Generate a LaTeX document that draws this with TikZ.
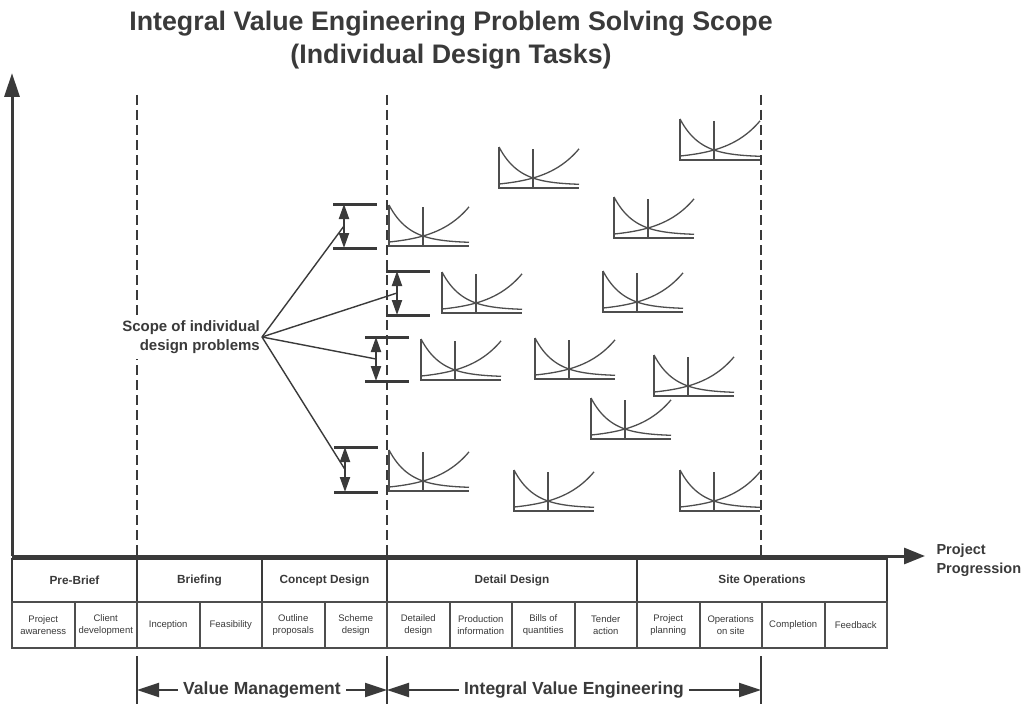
\documentclass[tikz,border=0pt]{standalone}
\usepackage{fontspec}
\setmainfont{Liberation Sans}
\usetikzlibrary{arrows.meta}
\definecolor{ink}{HTML}{3A3A3A}
\definecolor{glyphc}{HTML}{4E4E4E}
\newcommand{\scopebar}[4]{%
  \draw[bar] (#2,#3) -- ++(44,0);
  \draw[bar] (#2,#4) -- ++(44,0);
  \draw[dblarrow] (#2+11,#3) -- (#2+11,#4);
  \coordinate (#1) at (#2+11,{(#3+#4)/2});
}
\begin{document}
\begin{tikzpicture}[x=1pt,y=-1pt,
  every node/.style={text=ink},
  titlefont/.style={font=\bfseries\fontsize{26.8}{30}\selectfont},
  axisline/.style={draw=ink,line width=3pt},
  dashline/.style={draw=ink,line width=2.2pt,dash pattern=on 10pt off 5pt},
  glyph/.style={draw=glyphc,line width=1.3pt},
  bar/.style={draw=ink,line width=3pt},
  dblarrow/.style={draw=ink,line width=2pt,{Triangle[length=15pt,width=10pt]}-{Triangle[length=15pt,width=10pt]}},
  fanline/.style={draw=ink,line width=1.4pt},
  hcell/.style={draw=ink,line width=1.5pt,minimum height=43pt,inner sep=0pt,font=\bfseries\fontsize{11.8}{14}\selectfont},
  scell/.style={draw=glyphc,line width=2pt,minimum width=62.5pt,minimum height=46pt,inner sep=0pt,align=center,font=\fontsize{9.5}{12}\selectfont},
  tickline/.style={draw=ink,line width=2.5pt},
  botarrow/.style={draw=ink,line width=2pt,{Triangle[length=22pt,width=14pt]}-{Triangle[length=22pt,width=14pt]}},
  botlabel/.style={fill=white,inner xsep=5pt,inner ysep=2pt,font=\bfseries\fontsize{17.5}{20}\selectfont},
  costcurve/.pic={
    \draw[glyph] (0,0) -- (0,41) -- (80,41);
    \draw[glyph] (34,2) -- (34,41);
    \draw[glyph] plot[domain=0:80,samples=40,smooth] (\x,{38-38*exp(-0.0498*\x)});
    \draw[glyph] plot[domain=0:80,samples=40,smooth] (\x,{37-3.21*(exp(0.031*\x)-1)});
  }]
\fill[white] (0,0) rectangle (1035,706);
\useasboundingbox (0,0) rectangle (1035,706);

% title
\node[titlefont,anchor=base] (title1) at (451,31) {Integral Value Engineering Problem Solving Scope};
\node[titlefont,anchor=base] (title2) at (451,64) {(Individual Design Tasks)};

% axes
\coordinate (origin) at (12,556);
\coordinate (ytop) at (12,73);
\coordinate (xend) at (925,556);
\draw[axisline,-{Triangle[length=24pt,width=15pt]}] (origin) -- (ytop);
\draw[axisline,-{Triangle[length=21pt,width=16pt]}] (origin) -- (xend);
\node[anchor=base west,font=\bfseries\fontsize{14.5}{17}\selectfont] (pp1) at (933,554) {Project};
\node[anchor=base west,font=\bfseries\fontsize{14.5}{17}\selectfont] (pp2) at (933,573) {Progression};

% dashed phase lines
\foreach \dx/\dn in {137/d1,387/d2,761/d3}{
  \coordinate (\dn top) at (\dx,95);
  \coordinate (\dn bot) at (\dx,556);
  \draw[dashline] (\dn top) -- (\dn bot);
}

% cost curve glyphs
\foreach \gx/\gy in {389/205,499/147,680/119,614/197,442/272,603/271,421/339,535/338,654/355,591/398,389/450,514/470,680/470}{
  \pic at (\gx,\gy) {costcurve};
}

% scope brackets
\scopebar{b1}{333}{204}{248}
\scopebar{b2}{386}{271}{315}
\scopebar{b3}{365}{337}{381}
\scopebar{b4}{334}{447}{492}

\node[anchor=east,align=right,fill=white,inner xsep=2pt,inner ysep=5pt,font=\bfseries\fontsize{15}{19}\selectfont] (scope) at (262,337) {Scope of individual\\design problems};
\foreach \b in {b1,b2,b3,b4}{
  \draw[fanline] (scope.east) -- (\b);
}

% table header row
\node[hcell,minimum width=125pt] (h1) at (74.5,580.5) {Pre-Brief};
\node[hcell,minimum width=125pt] (h2) at (199.5,580.5) {Briefing};
\node[hcell,minimum width=125pt] (h3) at (324.5,580.5) {Concept Design};
\node[hcell,minimum width=250pt] (h4) at (512,580.5) {Detail Design};
\node[hcell,minimum width=250pt] (h5) at (762,580.5) {Site Operations};

% table sub row
\foreach \lab [count=\i from 0] in {{Project\\awareness},{Client\\development},{Inception},{Feasibility},{Outline\\proposals},{Scheme\\design},{Detailed\\design},{Production\\information},{Bills of\\quantities},{Tender\\action},{Project\\planning},{Operations\\on site},{Completion},{Feedback}}{
  \node[scell] (s\i) at ({12+62.5*(\i+0.5)},625) {\lab};
}

% bottom ranges
\foreach \tx/\tn in {137/t1,387/t2,761/t3}{
  \coordinate (\tn a) at (\tx,656);
  \coordinate (\tn b) at (\tx,704);
  \coordinate (\tn m) at (\tx,690);
  \draw[tickline] (\tn a) -- (\tn b);
}
\draw[botarrow] (t1m) -- (t2m) node[midway,botlabel] (vm) {Value Management};
\draw[botarrow] (t2m) -- (t3m) node[midway,botlabel] (ive) {Integral Value Engineering};
\end{tikzpicture}
\end{document}
